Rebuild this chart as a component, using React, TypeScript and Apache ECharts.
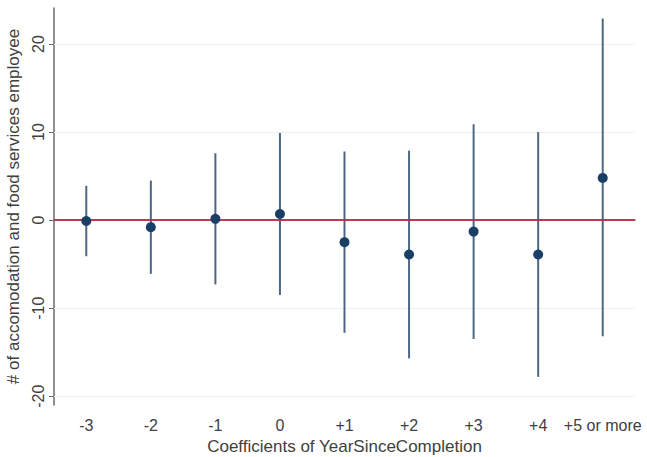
import React, { useEffect, useRef } from "react";
import * as echarts from "echarts";

const categories = ["-3", "-2", "-1", "0", "+1", "+2", "+3", "+4", "+5 or more"];
const coef = [-0.1, -0.8, 0.15, 0.7, -2.5, -3.9, -1.3, -3.9, 4.8];
const lower = [-4.1, -6.1, -7.3, -8.5, -12.8, -15.7, -13.5, -17.8, -13.2];
const upper = [3.9, 4.5, 7.6, 9.9, 7.8, 7.9, 10.9, 10.0, 22.9];
const yTicks = [-20, -10, 0, 10, 20];
const gridValues = [-20, -10, 10, 20];

const FONT = "Liberation Sans, Arial, sans-serif";

export default function App() {
  const ref = useRef<HTMLDivElement>(null);
  useEffect(() => {
    if (!ref.current) return;
    const chart = echarts.init(ref.current, null, { renderer: "svg" });
    const ciData = categories.map((_, i) => [i, lower[i], upper[i]]);
    chart.setOption({
      animation: false,
      backgroundColor: "#ffffff",
      textStyle: { fontFamily: FONT },
      grid: {
        left: 54,
        top: 8,
        right: 12,
        bottom: 52,
        containLabel: false,
        outerBoundsMode: "none",
      },
      xAxis: {
        type: "category",
        data: categories,
        boundaryGap: true,
        name: "Coefficients of YearSinceCompletion",
        nameLocation: "middle",
        nameGap: 28,
        nameTextStyle: { fontSize: 17, color: "#404040", fontFamily: FONT },
        axisLine: { show: true, lineStyle: { color: "#6a6a6a", width: 1.5 } },
        axisTick: { show: true, alignWithLabel: true, interval: 0, length: 5, lineStyle: { color: "#6a6a6a" } },
        axisLabel: { fontSize: 16, color: "#404040", margin: 12, interval: 0, fontFamily: FONT },
        splitLine: { show: false },
      },
      yAxis: {
        type: "value",
        min: -21,
        max: 24.1,
        name: "# of accomodation and food services employee",
        nameLocation: "middle",
        nameRotate: 90,
        nameGap: 25,
        nameTextStyle: { fontSize: 17, color: "#404040", fontFamily: FONT },
        axisLine: { show: true, lineStyle: { color: "#6a6a6a", width: 1.5 } },
        axisTick: { show: true, length: 5, customValues: yTicks, lineStyle: { color: "#6a6a6a" } },
        axisLabel: {
          fontSize: 16,
          color: "#404040",
          rotate: 90,
          margin: 8,
          customValues: yTicks,
          fontFamily: FONT,
        },
        splitLine: { show: false },
      },
      series: [
        {
          type: "custom",
          silent: true,
          z: 2,
          data: ciData,
          renderItem: (params: any, api: any) => {
            const i = api.value(0);
            const p1 = api.coord([i, api.value(1)]);
            const p2 = api.coord([i, api.value(2)]);
            return {
              type: "line",
              shape: { x1: p1[0], y1: p1[1], x2: p2[0], y2: p2[1] },
              style: { stroke: "#4d6784", lineWidth: 2 },
            };
          },
          markLine: {
            silent: true,
            symbol: "none",
            label: { show: false },
            z: 1,
            data: gridValues.map((v) => ({
              yAxis: v,
              lineStyle: { color: "#eaf0f4", width: 1, type: "solid" },
            })),
          },
        },
        {
          type: "line",
          data: [],
          markLine: {
            silent: true,
            symbol: "none",
            label: { show: false },
            data: [{ yAxis: 0, lineStyle: { color: "#c8203f", width: 1.5, type: "solid" } }],
          },
          z: 3,
        },
        {
          type: "scatter",
          data: coef.map((v, i) => [i, v]),
          symbol: "circle",
          symbolSize: 10,
          itemStyle: { color: "#1a3f66", opacity: 1 },
          z: 5,
        },
      ],
    });
    return () => chart.dispose();
  }, []);
  return <div ref={ref} style={{ width: 647, height: 457, position: "absolute", left: 0, top: 0 }} />;
}
